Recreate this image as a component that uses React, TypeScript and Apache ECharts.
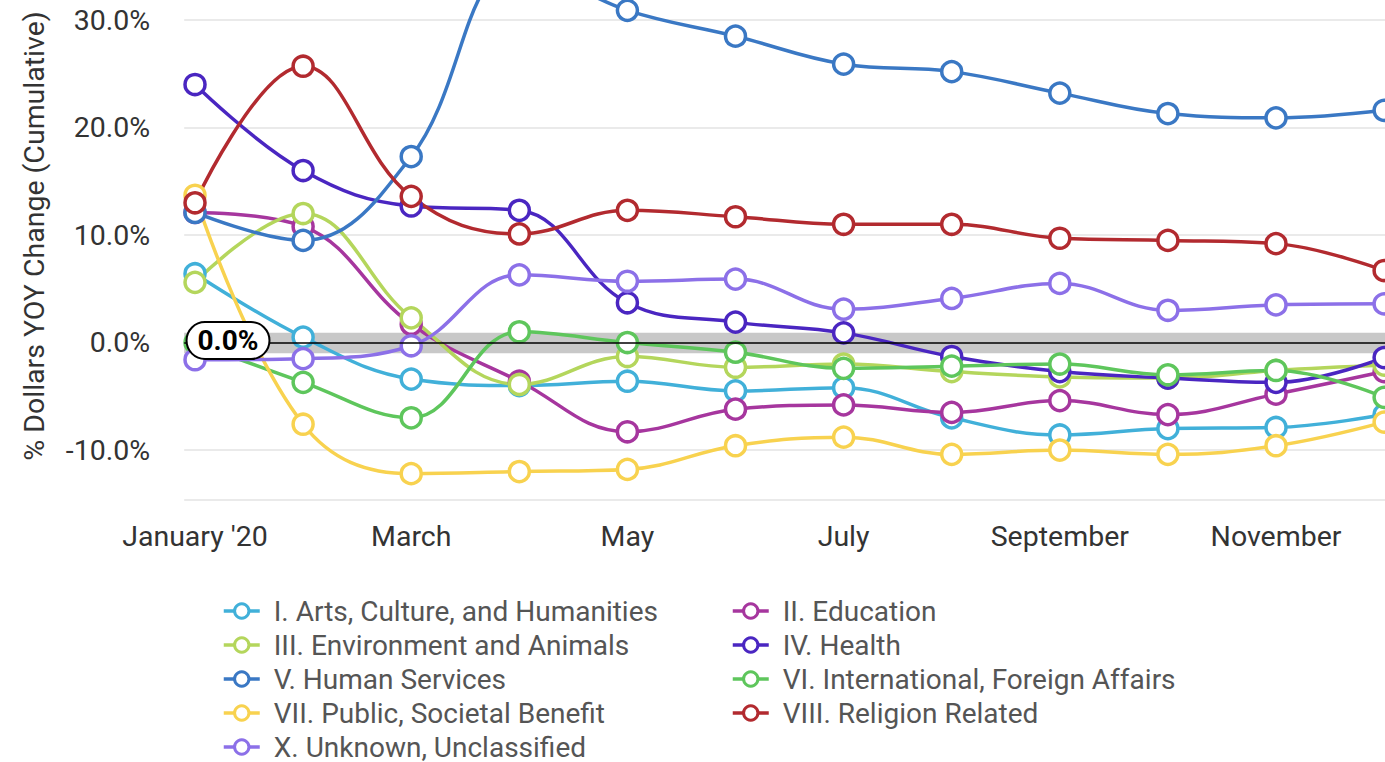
import React, { useEffect, useRef } from "react";
import * as echarts from "echarts";

const months = [
  "January '20", "February", "March", "April", "May", "June",
  "July", "August", "September", "October", "November", "December",
];

const seriesNames = [
  "I. Arts, Culture, and Humanities",
  "II. Education",
  "III. Environment and Animals",
  "IV. Health",
  "V. Human Services",
  "VI. International, Foreign Affairs",
  "VII. Public, Societal Benefit",
  "VIII. Religion Related",
  "X. Unknown, Unclassified",
];

const seriesColors = [
  "#41b0d9", "#a6369e", "#b4d65c", "#4a26c1", "#3a78c4",
  "#5ec65c", "#f8d24f", "#b22a2f", "#8c70e8",
];

const arts = [6.4, 0.5, -3.4, -4.0, -3.6, -4.5, -4.2, -7.0, -8.6, -8.0, -7.9, -6.7];
const education = [12.1, 10.8, 1.7, -3.6, -8.3, -6.2, -5.8, -6.5, -5.4, -6.7, -4.8, -2.7];
const environment = [5.6, 12.0, 2.3, -3.9, -1.3, -2.3, -2.0, -2.7, -3.2, -3.3, -2.6, -2.1];
const health = [24.0, 16.0, 12.7, 12.3, 3.7, 1.9, 0.9, -1.3, -2.7, -3.3, -3.7, -1.4];
const humanServices = [12.1, 9.5, 17.3, 35.0, 30.9, 28.5, 25.9, 25.2, 23.2, 21.3, 20.9, 21.6];
const international = [0.0, -3.7, -7.0, 1.0, 0.0, -0.9, -2.4, -2.2, -2.0, -3.0, -2.6, -5.1];
const publicBenefit = [13.7, -7.6, -12.2, -12.0, -11.8, -9.6, -8.8, -10.4, -10.0, -10.4, -9.6, -7.4];
const religion = [13.0, 25.7, 13.6, 10.1, 12.3, 11.7, 11.0, 11.0, 9.7, 9.5, 9.2, 6.7];
const unknown = [-1.6, -1.5, -0.3, 6.3, 5.7, 5.9, 3.1, 4.1, 5.5, 3.0, 3.5, 3.6];

const seriesValues = [
  arts, education, environment, health, humanServices,
  international, publicBenefit, religion, unknown,
];

const legendLeftColumn = [0, 2, 4, 6, 8].map((i) => seriesNames[i]);
const legendRightColumn = [1, 3, 5, 7].map((i) => seriesNames[i]);

const yMin = -14.6;
const yMax = 40;
const xMin = -0.1;
const xMax = 11.05;
const zeroBand = [-1.0, 0.9];
const zeroLabel = "0.0%";
const yTitle = "% Dollars YOY Change (Cumulative)";

const FONT = "Roboto, 'Noto Sans', Arial, sans-serif";
const FS = 28.5;

export default function App() {
  const ref = useRef<HTMLDivElement>(null);

  useEffect(() => {
    if (!ref.current) return;
    const chart = echarts.init(ref.current, undefined, { renderer: "svg" });

    const lineSeries = seriesNames.map((name, i) => ({
      name,
      type: "line",
      data: seriesValues[i].map((v, k) => [k, v]),
      smooth: 0.4,
      symbol: "circle",
      symbolSize: 20,
      showAllSymbol: true,
      z: 2,
      color: seriesColors[i],
      lineStyle: { width: 3.5, color: seriesColors[i] },
      itemStyle: { color: "#ffffff", borderColor: seriesColors[i], borderWidth: 3.5 },
      emphasis: { disabled: true },
    }));

    const legendBase = {
      orient: "vertical",
      top: 597,
      height: 220,
      padding: 0,
      itemWidth: 36,
      itemHeight: 18,
      itemGap: 6,
      selectedMode: false,
      lineStyle: { width: 3.5 },
      itemStyle: { borderWidth: 3 },
      textStyle: {
        fontSize: 28,
        color: "#555555",
        fontFamily: FONT,
        padding: [0, 0, 0, 9],
      },
    };

    const option: any = {
      animation: false,
      backgroundColor: "#ffffff",
      textStyle: { fontFamily: FONT },
      grid: {
        left: 184.2,
        top: -87.5,
        width: 1205.3,
        height: 587,
        containLabel: false,
        outerBoundsMode: "none",
      },
      xAxis: {
        type: "value",
        min: xMin,
        max: xMax,
        minInterval: 2,
        maxInterval: 2,
        splitLine: { show: false },
        axisTick: { show: false },
        axisLine: { show: true, lineStyle: { color: "#ccd6eb", width: 1.5 } },
        axisLabel: {
          showMinLabel: false,
          showMaxLabel: false,
          margin: 22,
          fontSize: FS,
          color: "#333333",
          fontFamily: FONT,
          formatter: (v: number) =>
            Number.isInteger(v) && v >= 0 && v % 2 === 0 ? months[v] : "",
        },
      },
      yAxis: {
        type: "value",
        min: yMin,
        max: yMax,
        minInterval: 10,
        maxInterval: 10,
        axisLine: { show: false },
        axisTick: { show: false },
        splitLine: { show: true, lineStyle: { color: "#e3e3e3", width: 1.5 } },
        axisLabel: {
          showMinLabel: false,
          showMaxLabel: false,
          margin: 34,
          fontSize: FS,
          color: "#333333",
          fontFamily: FONT,
          formatter: (v: number) => `${v.toFixed(1)}%`,
        },
      },
      legend: [
        { ...legendBase, left: 222, data: legendLeftColumn },
        { ...legendBase, left: 731, data: legendRightColumn },
      ],
      graphic: [
        {
          type: "text",
          x: 34,
          y: 236,
          rotation: Math.PI / 2,
          style: {
            text: yTitle,
            font: `${FS}px ${FONT}`,
            fill: "#333333",
            textAlign: "center",
            textVerticalAlign: "middle",
            align: "center",
            verticalAlign: "middle",
          },
        },
      ],
      series: [
        {
          name: "__zero",
          type: "line",
          data: [],
          z: 1,
          silent: true,
          markArea: {
            silent: true,
            itemStyle: { color: "#c8c8c8" },
            data: [[{ yAxis: zeroBand[0] }, { yAxis: zeroBand[1] }]],
          },
          markLine: {
            silent: true,
            symbol: ["none", "none"],
            label: { show: false },
            lineStyle: { color: "#000000", width: 1.5, type: "solid" },
            data: [{ yAxis: 0 }],
          },
        },
        ...lineSeries,
        {
          name: "__zeroLabel",
          type: "line",
          data: [],
          z: 10,
          silent: true,
          markPoint: {
            silent: true,
            symbol: "circle",
            symbolSize: 1,
            itemStyle: { color: "rgba(0,0,0,0)" },
            label: {
              show: true,
              position: "inside",
              offset: [33, -2],
              formatter: zeroLabel,
              fontSize: 28,
              fontWeight: "bold",
              color: "#000000",
              fontFamily: FONT,
              backgroundColor: "#ffffff",
              borderColor: "#000000",
              borderWidth: 2,
              borderRadius: 19,
              padding: [4, 10, 3, 10],
            },
            data: [{ coord: [0, 0] }],
          },
        },
      ],
    };

    chart.setOption(option);
    return () => chart.dispose();
  }, []);

  return (
    <div
      ref={ref}
      style={{ position: "fixed", left: 0, top: 0, width: 1385, height: 762 }}
    />
  );
}
